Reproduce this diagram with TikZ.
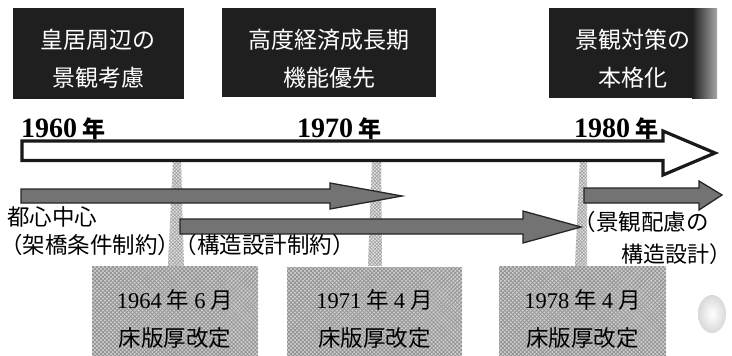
\documentclass[tikz,border=0pt]{standalone}
\usepackage{fontspec}
\setmainfont{Liberation Serif}
\newfontfamily\cjk{Noto Sans CJK JP}
\usetikzlibrary{patterns,patterns.meta}
\newcommand{\jfs}[1]{\fontsize{#1}{#1}\selectfont}
\tikzset{
  darkbox/.style={fill=black!88, draw=none},
  boxtext/.style={text=white, font=\cjk\jfs{23}, inner sep=0pt},
  yeartext/.style={anchor=base west, inner sep=0pt, font=\bfseries\jfs{28}},
  labeltext/.style={anchor=west, inner sep=0pt, font=\cjk\jfs{22.5}},
  hatchtext/.style={inner sep=0pt, font=\cjk\jfs{22.5}},
  hatchfill/.style={fill=gray!38,
     postaction={pattern={Hatch[angle=45,distance=2.8pt,line width=0.8pt]}, pattern color=gray!85}},
  stripefill/.style={fill=gray!20,
     postaction={pattern={Hatch[angle=45,distance=2.4pt,line width=0.6pt]}, pattern color=gray!75}},
  bigarrow/.style={draw=black!90, line width=3.2pt, fill=white, line join=miter},
  garrow/.style={draw=black!85, line width=1.3pt, fill=black!55, line join=miter},
}
\begin{document}
\begin{tikzpicture}[x=1pt,y=-1pt]
\useasboundingbox (0,0) rectangle (732,356);
\fill[white] (0,0) rectangle (732,356);

% dark header boxes
\fill[darkbox] (13,8) rectangle (184,99);
\fill[darkbox] (222,8) rectangle (436,97);
\fill[darkbox] (549,8) rectangle (717,98);
\shade[left color=black!88, right color=gray!70] (692,8) rectangle (717,98);

\node[boxtext] (h1a) at (98.5,40) {皇居周辺の};
\node[boxtext] (h1b) at (98.5,78) {景観考慮};
\node[boxtext] (h2a) at (329,40) {高度経済成長期};
\node[boxtext] (h2b) at (329,78) {機能優先};
\node[boxtext] (h3a) at (633,40) {景観対策の};
\node[boxtext] (h3b) at (633,78) {本格化};

% year labels
\node[yeartext] (y60) at (21,137) {1960\hspace{5pt}{\cjk\jfs{23}年}};
\node[yeartext] (y70) at (297,137) {1970\hspace{5pt}{\cjk\jfs{23}年}};
\node[yeartext] (y80) at (574,137) {1980\hspace{5pt}{\cjk\jfs{23}年}};

% hatched vertical stripes
\path[stripefill] (173,160) -- (181,160) -- (184,266) -- (168,266) -- cycle;
\path[stripefill] (372,160) -- (381,160) -- (382,266) -- (368,266) -- cycle;
\path[stripefill] (580,160) -- (587,160) -- (587,266) -- (575,266) -- cycle;

% main timeline arrow
\draw[bigarrow] (22,141) -- (663,141) -- (663,131) -- (715,153) -- (663,175)
      -- (663,160.5) -- (22,160.5) -- cycle;

% grey arrows
\draw[garrow] (21,189) -- (330,189) -- (330,183) -- (402,196) -- (330,209)
      -- (330,203) -- (21,203) -- cycle;
\draw[garrow] (180,219) -- (523,219) -- (523,211) -- (581,227) -- (523,243)
      -- (523,234) -- (180,234) -- cycle;
\draw[garrow] (584,188) -- (699,188) -- (699,181) -- (722,195) -- (699,210)
      -- (699,203) -- (584,203) -- cycle;

% labels
\node[labeltext] (l1) at (7,217) {都心中心};
\node[labeltext] (l2) at (0,245) {（架橋条件制約）};
\node[labeltext] (l3) at (174.5,245) {（構造設計制約）};
\node[labeltext] (l4) at (573.5,222) {（景観配慮の};
\node[labeltext, font=\cjk\jfs{22}] (l5) at (621,254) {構造設計）};

% hatched boxes
\path[hatchfill] (92,266) rectangle (258,356);
\path[hatchfill] (287,267) rectangle (462,356);
\path[hatchfill] (499,266) rectangle (666,356);

\node[hatchtext] (d1a) at (175,300) {{\rmfamily 1964} 年 {\rmfamily 6} 月};
\node[hatchtext] (d1b) at (175,338) {床版厚改定};
\node[hatchtext] (d2a) at (374.5,300) {{\rmfamily 1971} 年 {\rmfamily 4} 月};
\node[hatchtext] (d2b) at (374.5,338) {床版厚改定};
\node[hatchtext] (d3a) at (582.5,300) {{\rmfamily 1978} 年 {\rmfamily 4} 月};
\node[hatchtext] (d3b) at (582.5,338) {床版厚改定};

% small ball at lower right
\shade[inner color=white, outer color=gray!30] (712,314) ellipse (14 and 19);
\end{tikzpicture}
\end{document}
